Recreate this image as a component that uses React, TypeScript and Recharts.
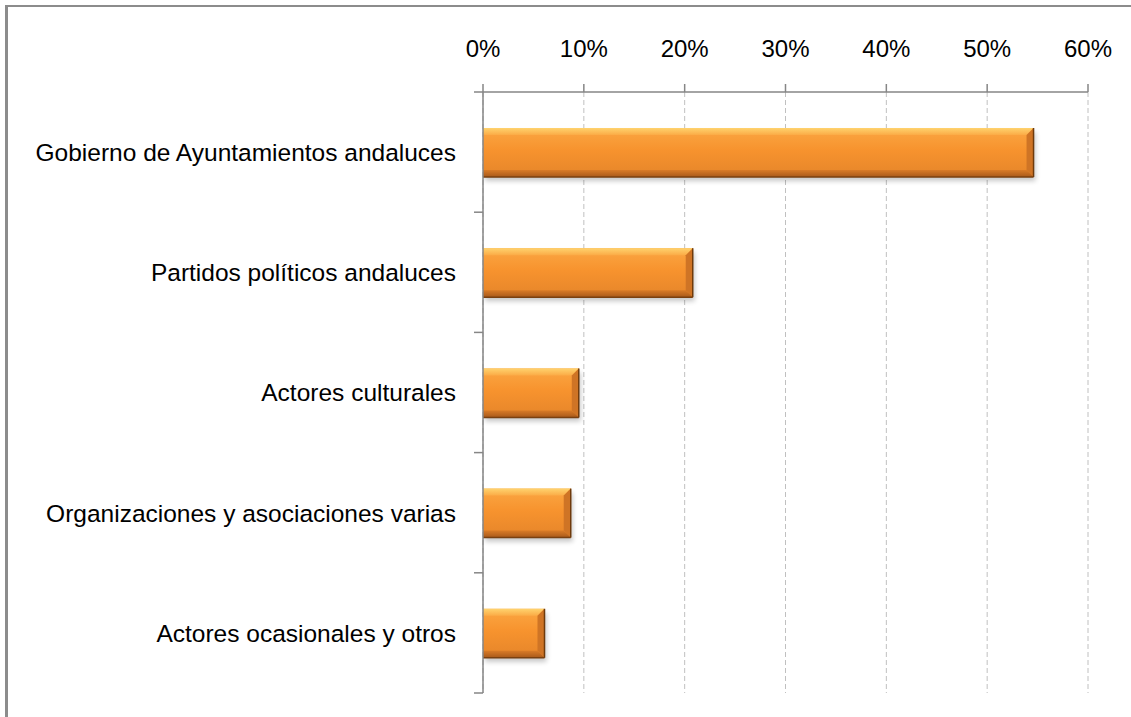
import React from "react";
import { BarChart, Bar, XAxis, YAxis, CartesianGrid } from "recharts";

const categories = [
  "Gobierno de Ayuntamientos andaluces",
  "Partidos políticos andaluces",
  "Actores culturales",
  "Organizaciones y asociaciones varias",
  "Actores ocasionales y otros",
];
const shares = [0.546, 0.208, 0.095, 0.087, 0.061];
const xTicks = [0, 0.1, 0.2, 0.3, 0.4, 0.5, 0.6];

const data = categories.map((name, i) => ({ name, value: shares[i] }));

const FONT = "'Liberation Sans', Arial, sans-serif";
const AXIS = "#868686";
const W = 1131;
const H = 717;
const MARGIN = { top: 0, right: 43, bottom: 24, left: 20 };
const X_AXIS_H = 92;
const LABEL_GAP = 27;
const TICK_LEN = 9;
const band = (H - MARGIN.top - MARGIN.bottom - X_AXIS_H) / categories.length;

// bevelled orange bar, like the office 3d preset
function BevelBar(props: any) {
  const { x, y, width, height } = props;
  if (!width || width <= 0) return null;
  const b = Math.min(7, width / 2, height / 2);
  const r = x + width;
  const btm = y + height;
  return (
    <g>
      <rect x={x + 2} y={y + 4} width={width} height={height} fill="#000" opacity={0.22} filter="url(#barShadow)" />
      <rect x={x} y={y} width={width} height={height} fill="url(#barBody)" />
      <polygon points={`${x},${y} ${r},${y} ${r - b},${y + b} ${x},${y + b}`} fill="url(#barTop)" />
      <polygon points={`${r},${y} ${r},${btm} ${r - b},${btm - b} ${r - b},${y + b}`} fill="#cf7425" />
      <polygon points={`${x},${btm} ${r},${btm} ${r - b},${btm - b} ${x},${btm - b}`} fill="url(#barBottom)" />
      <line x1={r} y1={y} x2={r} y2={btm} stroke="#6e3a0c" strokeWidth={1.5} />
      <line x1={x} y1={btm} x2={r} y2={btm} stroke="#7a4010" strokeWidth={1.5} />
    </g>
  );
}

// category label + tick marks between categories (excel style)
function CatTick(props: any) {
  const { x, y, payload, index, visibleTicksCount } = props;
  const ax = x + LABEL_GAP;
  const last = index === visibleTicksCount - 1;
  return (
    <g>
      <line x1={ax - TICK_LEN} x2={ax} y1={y - band / 2} y2={y - band / 2} stroke={AXIS} strokeWidth={1.5} />
      {last && <line x1={ax - TICK_LEN} x2={ax} y1={y + band / 2} y2={y + band / 2} stroke={AXIS} strokeWidth={1.5} />}
      <text x={x} y={y} dy="0.36em" textAnchor="end" fill="#000" fontSize={24.5} fontFamily={FONT}>
        {payload.value}
      </text>
    </g>
  );
}

export default function App() {
  return (
    <div style={{ position: "absolute", left: 0, top: 0, width: W, height: H, overflow: "hidden", background: "#fff" }}>
      <div
        style={{
          position: "absolute",
          left: 5,
          top: 5,
          width: 1140,
          height: 730,
          borderLeft: "3px solid #8c8c8c",
          borderTop: "2px solid #8c8c8c",
        }}
      />
      <div style={{ position: "absolute", left: 0, top: 0 }}>
        <BarChart width={W} height={H} data={data} layout="vertical" margin={MARGIN} barSize={49}>
          <defs>
            <linearGradient id="barBody" x1="0" y1="0" x2="0" y2="1">
              <stop offset="0%" stopColor="#fba743" />
              <stop offset="45%" stopColor="#f7932e" />
              <stop offset="100%" stopColor="#e5852a" />
            </linearGradient>
            <linearGradient id="barTop" x1="0" y1="0" x2="0" y2="1">
              <stop offset="0%" stopColor="#ffd36e" />
              <stop offset="100%" stopColor="#fbab46" />
            </linearGradient>
            <linearGradient id="barBottom" x1="0" y1="0" x2="0" y2="1">
              <stop offset="0%" stopColor="#d97b27" />
              <stop offset="100%" stopColor="#a8591a" />
            </linearGradient>
            <filter id="barShadow" x="-10%" y="-30%" width="120%" height="160%">
              <feGaussianBlur stdDeviation="2.5" />
            </filter>
          </defs>
          <CartesianGrid horizontal={false} stroke="#c0c0c0" strokeDasharray="5 3" />
          <XAxis
            type="number"
            orientation="top"
            domain={[0, 0.6]}
            ticks={xTicks}
            tickFormatter={(v: number) => `${Math.round(v * 100)}%`}
            height={X_AXIS_H}
            tickSize={8}
            tickMargin={27}
            stroke={AXIS}
            strokeWidth={1.5}
            tick={{ fill: "#000", fontSize: 24, fontFamily: FONT }}
            interval={0}
            allowDataOverflow
          />
          <YAxis
            type="category"
            dataKey="name"
            width={463}
            stroke={AXIS}
            strokeWidth={1.5}
            tickLine={false}
            tickSize={0}
            tickMargin={LABEL_GAP}
            interval={0}
            tick={<CatTick />}
          />
          <Bar dataKey="value" shape={BevelBar} isAnimationActive={false} />
        </BarChart>
      </div>
    </div>
  );
}
